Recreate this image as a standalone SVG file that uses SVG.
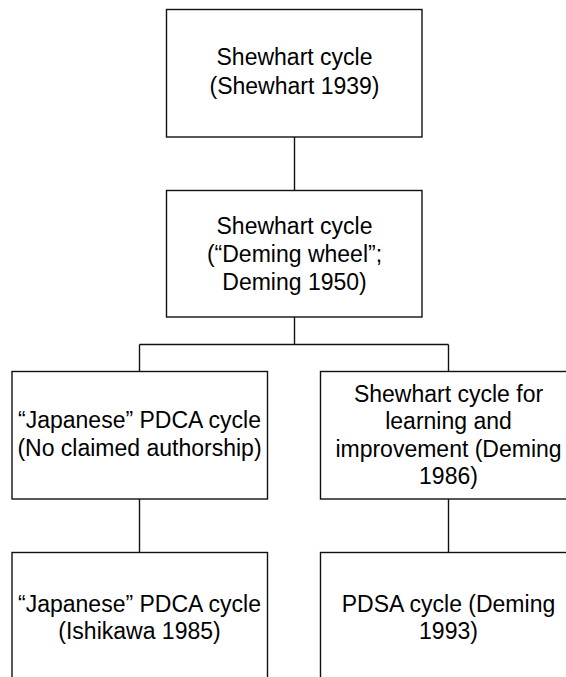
<svg xmlns="http://www.w3.org/2000/svg" width="566" height="677" viewBox="0 0 566 677">
  <style>
    .box { fill: #ffffff; stroke: #111111; stroke-width: 1.4; }
    .wire { fill: none; stroke: #111111; stroke-width: 1.4; }
    .lbl { font-family: "Liberation Sans", Arial, sans-serif; font-size: 23px; fill: #000000; text-anchor: middle; }
  </style>
  <rect x="0" y="0" width="566" height="677" fill="#ffffff"/>

  <!-- connectors -->
  <g id="connectors">
    <line class="wire" x1="294.5" y1="137" x2="294.5" y2="190.5"/>
    <line class="wire" x1="294.5" y1="317" x2="294.5" y2="344.5"/>
    <line class="wire" x1="139.5" y1="344.5" x2="448.5" y2="344.5"/>
    <line class="wire" x1="139.5" y1="344.5" x2="139.5" y2="371.5"/>
    <line class="wire" x1="448.5" y1="344.5" x2="448.5" y2="371.5"/>
    <line class="wire" x1="139.5" y1="499" x2="139.5" y2="552.5"/>
    <line class="wire" x1="448.5" y1="499" x2="448.5" y2="552.5"/>
  </g>

  <g id="shewhart-1939">
    <rect class="box" x="166.5" y="9.5" width="255.5" height="127.5"/>
    <text class="lbl" x="294.5" y="65">Shewhart cycle</text>
    <text class="lbl" x="294.5" y="94">(Shewhart 1939)</text>
  </g>

  <g id="deming-wheel-1950">
    <rect class="box" x="166.5" y="190.5" width="255.5" height="126.5"/>
    <text class="lbl" x="294.5" y="234">Shewhart cycle</text>
    <text class="lbl" x="294.5" y="262">(“Deming wheel”;</text>
    <text class="lbl" x="294.5" y="290">Deming 1950)</text>
  </g>

  <g id="japanese-pdca">
    <rect class="box" x="12" y="371.5" width="255.5" height="127.5"/>
    <text class="lbl" x="139.5" y="428">“Japanese” PDCA cycle</text>
    <text class="lbl" x="139.5" y="456">(No claimed authorship)</text>
  </g>

  <g id="deming-1986">
    <rect class="box" x="320.5" y="371.5" width="256" height="127.5"/>
    <text class="lbl" x="448.5" y="401.5">Shewhart cycle for</text>
    <text class="lbl" x="448.5" y="429">learning and</text>
    <text class="lbl" x="448.5" y="456.5">improvement (Deming</text>
    <text class="lbl" x="448.5" y="483.5">1986)</text>
  </g>

  <g id="ishikawa-1985">
    <rect class="box" x="12" y="552.5" width="255.5" height="140"/>
    <text class="lbl" x="139.5" y="612">“Japanese” PDCA cycle</text>
    <text class="lbl" x="139.5" y="639">(Ishikawa 1985)</text>
  </g>

  <g id="pdsa-1993">
    <rect class="box" x="320.5" y="552.5" width="256" height="140"/>
    <text class="lbl" x="448.5" y="612">PDSA cycle (Deming</text>
    <text class="lbl" x="448.5" y="639">1993)</text>
  </g>
</svg>
